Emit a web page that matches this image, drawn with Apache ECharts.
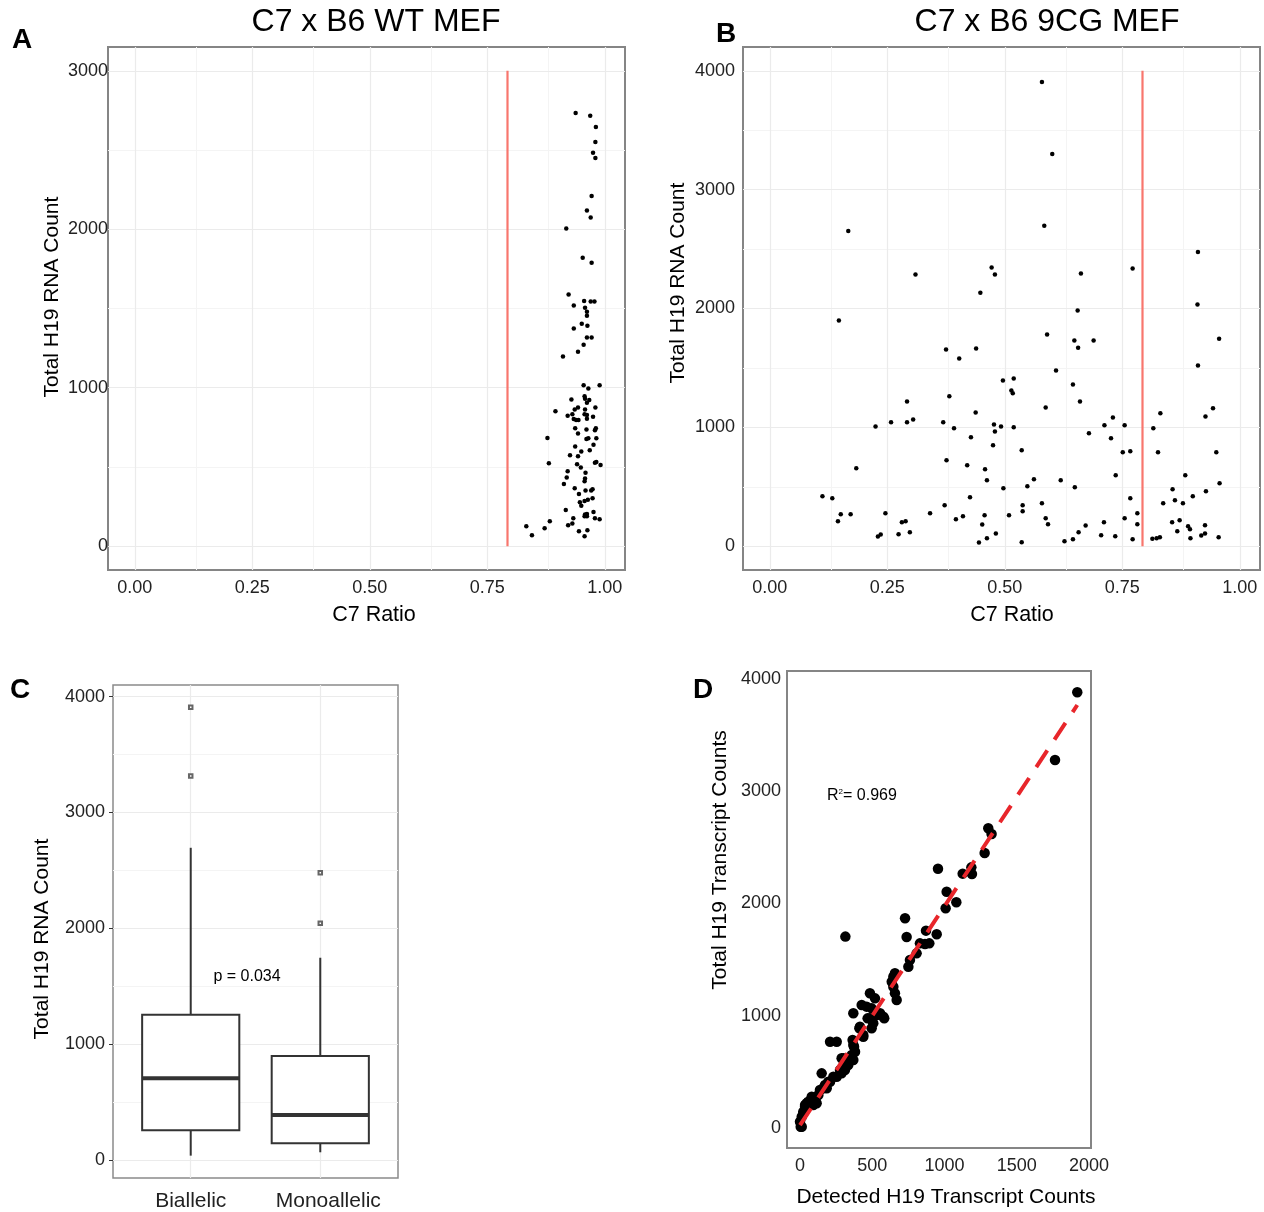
<!DOCTYPE html>
<html>
<head>
<meta charset="utf-8">
<script src="https://cdn.jsdelivr.net/npm/echarts@6.0.0/dist/echarts.min.js"></script>
<style>
  html, body { margin: 0; background: #fff; }
  #chart { width: 1264px; height: 1212px; }
</style>
</head>
<body>
<div id="chart"></div>
<script>
// A: C7 x B6 WT MEF  [C7 ratio, total H19 count]
var wtCells = [
  [0.938,2733],[0.969,2716],[0.981,2645],[0.980,2550],[0.975,2483],[0.980,2450],[0.972,2210],
  [0.962,2118],[0.970,2074],[0.918,2004],[0.953,1821],[0.972,1788],[0.923,1588],[0.956,1548],
  [0.970,1544],[0.978,1544],[0.934,1519],[0.958,1504],[0.962,1479],[0.962,1454],[0.951,1404],
  [0.934,1374],[0.963,1391],[0.962,1317],[0.972,1317],[0.955,1271],[0.943,1227],[0.911,1197],
  [0.955,1015],[0.989,1015],[0.965,996],[0.929,926],[0.957,947],[0.958,931],[0.967,922],
  [0.962,906],[0.943,876],[0.980,876],[0.936,863],[0.958,863],[0.895,851],[0.931,832],
  [0.957,832],[0.962,828],[0.921,824],[0.975,817],[0.934,802],[0.939,796],[0.944,796],
  [0.962,805],[0.937,744],[0.961,737],[0.979,731],[0.981,744],[0.943,712],[0.878,683],
  [0.961,676],[0.965,681],[0.982,681],[0.976,641],[0.937,630],[0.950,597],[0.968,605],
  [0.926,574],[0.943,567],[0.881,523],[0.941,517],[0.949,496],[0.979,527],[0.982,531],
  [0.991,512],[0.921,473],[0.959,464],[0.919,433],[0.958,427],[0.957,410],[0.913,393],
  [0.936,366],[0.959,351],[0.971,351],[0.974,359],[0.945,330],[0.974,302],[0.964,294],
  [0.957,286],[0.947,277],[0.950,256],[0.917,229],[0.958,200],[0.962,204],[0.976,216],
  [0.957,189],[0.962,189],[0.979,176],[0.989,170],[0.933,176],[0.883,158],[0.931,143],
  [0.922,132],[0.833,126],[0.872,113],[0.945,95],[0.963,101],[0.845,69],[0.957,63]
];

// B: C7 x B6 9CG MEF  [C7 ratio, total H19 count]
var cgCells = [
  [0.167,2653],[0.310,2286],[0.472,2345],[0.479,2286],[0.448,2132],[0.579,3905],[0.601,3300],
  [0.584,2697],[0.662,2294],[0.772,2336],[0.911,2476],[0.910,2034],[0.655,1983],[0.147,1899],
  [0.375,1655],[0.439,1664],[0.403,1580],[0.382,1261],[0.292,1218],[0.438,1126],[0.225,1008],
  [0.258,1042],[0.292,1042],[0.305,1067],[0.369,1042],[0.392,992],[0.477,1025],[0.479,966],
  [0.492,1008],[0.475,849],[0.428,916],[0.184,655],[0.376,723],[0.420,681],[0.458,647],
  [0.462,555],[0.112,420],[0.133,403],[0.151,269],[0.145,210],[0.172,269],[0.246,277],
  [0.230,81],[0.236,98],[0.274,101],[0.281,202],[0.289,210],[0.298,118],[0.341,277],
  [0.372,345],[0.396,227],[0.411,252],[0.426,412],[0.457,261],[0.452,182],[0.462,67],
  [0.445,31],[0.481,107],[0.956,1745],[0.590,1782],[0.648,1731],[0.656,1670],[0.689,1731],
  [0.911,1521],[0.609,1479],[0.496,1395],[0.519,1412],[0.514,1311],[0.517,1286],[0.645,1361],
  [0.660,1218],[0.587,1168],[0.943,1160],[0.927,1092],[0.831,1118],[0.730,1084],[0.712,1017],
  [0.755,1017],[0.519,1000],[0.816,992],[0.679,950],[0.726,908],[0.536,807],[0.751,790],
  [0.767,798],[0.826,790],[0.950,790],[0.736,597],[0.884,597],[0.957,529],[0.562,563],
  [0.619,555],[0.548,504],[0.649,496],[0.497,487],[0.857,479],[0.928,462],[0.900,420],
  [0.767,403],[0.862,387],[0.837,361],[0.879,361],[0.579,361],[0.538,345],[0.538,294],
  [0.509,261],[0.782,277],[0.587,235],[0.755,235],[0.711,202],[0.856,202],[0.872,218],
  [0.592,185],[0.782,185],[0.672,174],[0.890,168],[0.894,143],[0.926,176],[0.867,126],
  [0.657,118],[0.705,92],[0.735,84],[0.645,59],[0.627,42],[0.536,34],[0.772,59],
  [0.814,62],[0.823,67],[0.830,76],[0.895,67],[0.918,90],[0.926,107],[0.955,76]
];

var ratioCutoff = 0.793;

// C: box plot  [min, Q1, median, Q3, max]
var boxCategories = ['Biallelic', 'Monoallelic'];
var boxStats = [
  [38, 257, 707, 1255, 2695],
  [67, 146, 388, 899, 1746]
];
var boxOutliers = [[1, 3907], [1, 3314], [2, 2479], [2, 2044]];

// D: [detected, total]
var transcripts = [
  [1919,3881],[1765,3278],[1303,2670],[1326,2619],[1278,2450],[955,2310],[1126,2266],
  [1186,2322],[1190,2263],[1015,2105],[1082,2011],[1008,1957],[727,1868],[738,1702],
  [314,1705],[872,1758],[946,1726],[830,1645],[865,1639],[895,1645],[807,1556],[761,1497],
  [750,1437],[657,1378],[646,1348],[635,1303],[646,1259],[657,1200],[669,1140],[484,1200],
  [519,1155],[427,1096],[461,1081],[369,1022],[496,1066],[531,1022],[577,992],[484,977],
  [507,933],[496,888],[531,1007],[554,1022],[583,977],[468,977],[415,903],[438,829],
  [208,769],[254,769],[364,784],[369,739],[381,680],[358,650],[369,606],[300,621],
  [334,561],[311,517],[288,487],[254,457],[150,487],[231,457],[196,412],[173,383],
  [161,354],[138,339],[127,294],[81,265],[46,220],[35,190],[23,145],[12,101],[0,56],
  [12,12],[104,249],[115,220],[92,205],[57,234],[323,576],[311,546],[277,517],[208,412],
  [185,354],[81,279],[35,205],[23,131],[5,12],[288,621],[374,724],[411,888],[438,813]
];
var fitLine = [[0, 25], [1919, 3768]];

var ratioTicks = [0, 0.25, 0.5, 0.75, 1];
var ratioMinor = [0.125, 0.375, 0.625, 0.875];
var wtTicks = [0, 1000, 2000, 3000];
var wtMinor = [500, 1500, 2500];
var countTicks = [0, 1000, 2000, 3000, 4000];
var countMinor = [500, 1500, 2500, 3500];
var detectedTicks = [0, 500, 1000, 1500, 2000];

var FONT = '"Liberation Sans", Arial, Helvetica, sans-serif';

function plain(v) { return String(v); }

function axis(grid, min, max, ticks, o) {
  o = o || {};
  return {
    type: 'value', gridIndex: grid, min: min, max: max,
    axisLine: { show: false },
    splitLine: { show: false },
    axisTick: { show: o.tick !== false, customValues: ticks, length: 4, lineStyle: { color: '#333', width: 1 } },
    axisLabel: {
      customValues: ticks, margin: o.margin, fontSize: o.size || 18, color: '#222',
      fontFamily: FONT, formatter: o.fmt || plain, rich: o.rich
    }
  };
}

function guides(xMajor, xMinor, yMajor, yMinor) {
  var d = [];
  var minor = { color: '#f4f4f4', width: 1, type: 'solid' };
  var major = { color: '#ebebeb', width: 1.2, type: 'solid' };
  xMinor.forEach(function (v) { d.push({ xAxis: v, lineStyle: minor }); });
  yMinor.forEach(function (v) { d.push({ yAxis: v, lineStyle: minor }); });
  xMajor.forEach(function (v) { d.push({ xAxis: v, lineStyle: major }); });
  yMajor.forEach(function (v) { d.push({ yAxis: v, lineStyle: major }); });
  return { silent: true, symbol: 'none', z: 1, label: { show: false }, animation: false, data: d };
}

function txt(x, y, s, size, extra) {
  var e = {
    type: 'text', x: x, y: y,
    style: { text: s, fontSize: size, fontFamily: FONT, fill: '#000', align: 'center', verticalAlign: 'middle' }
  };
  if (extra) for (var k in extra) e[k] = extra[k];
  return e;
}

function letter(x, y, s) {
  var e = txt(x, y, s, 28);
  e.style.fontWeight = 'bold';
  return e;
}

var frame = { show: true, borderColor: '#858585', borderWidth: 2, backgroundColor: 'transparent', outerBoundsMode: 'none', containLabel: false };
var dot = { color: '#000', opacity: 1 };

var chart = echarts.init(document.getElementById('chart'));
chart.setOption({
  animation: false,
  grid: [
    Object.assign({ left: 108, top: 47, width: 517, height: 523 }, frame),
    Object.assign({ left: 743, top: 47, width: 517, height: 523 }, frame),
    Object.assign({ left: 113, top: 685, width: 285, height: 493 }, frame, { borderWidth: 1.5, borderColor: '#8a8a8a' }),
    Object.assign({ left: 787, top: 671, width: 304, height: 477 }, frame)
  ],
  xAxis: [
    axis(0, -0.057, 1.043, ratioTicks, { margin: 9, fmt: function (v) { return v.toFixed(2); } }),
    axis(1, -0.057, 1.043, ratioTicks, { margin: 9, fmt: function (v) { return v.toFixed(2); } }),
    axis(2, 0.4, 2.6, [1, 2], {
      margin: 13, size: 21,
      fmt: function (v) { var i = Math.round(v) - 1; return i === 1 ? '{m|' + boxCategories[i] + '}' : boxCategories[i]; },
      rich: { m: { fontSize: 21, fontFamily: FONT, color: '#222', padding: [0, 0, 0, 16] } }
    }),
    axis(3, -90, 2014, detectedTicks, { tick: false, margin: 9 })
  ],
  yAxis: [
    axis(0, -150, 3150, wtTicks, { margin: 0 }),
    axis(1, -200, 4200, countTicks, { margin: 8 }),
    axis(2, -155, 4100, countTicks, { margin: 8 }),
    axis(3, -178, 4071, countTicks, { tick: false, margin: 6 })
  ],
  series: [
    {
      type: 'scatter', xAxisIndex: 0, yAxisIndex: 0, data: wtCells, z: 3,
      symbolSize: 4.5, itemStyle: dot,
      markLine: guides(ratioTicks, ratioMinor, wtTicks, wtMinor)
    },
    {
      type: 'line', xAxisIndex: 0, yAxisIndex: 0, z: 2, symbol: 'none',
      data: [[ratioCutoff, 0], [ratioCutoff, 3000]],
      lineStyle: { color: '#f8766d', width: 2.2 }
    },
    {
      type: 'scatter', xAxisIndex: 1, yAxisIndex: 1, data: cgCells, z: 3,
      symbolSize: 4.5, itemStyle: dot,
      markLine: guides(ratioTicks, ratioMinor, countTicks, countMinor)
    },
    {
      type: 'line', xAxisIndex: 1, yAxisIndex: 1, z: 2, symbol: 'none',
      data: [[ratioCutoff, 0], [ratioCutoff, 4000]],
      lineStyle: { color: '#f8766d', width: 2.2 }
    },
    {
      type: 'custom', xAxisIndex: 2, yAxisIndex: 2, z: 3,
      data: boxStats.map(function (s, i) { return [i + 1].concat(s); }),
      encode: { x: 0, y: [1, 2, 3, 4, 5] },
      renderItem: function (params, api) {
        var x = api.value(0), hw = 0.375;
        var lo = api.value(1), q1 = api.value(2), med = api.value(3), q3 = api.value(4), hi = api.value(5);
        function seg(x1, y1, x2, y2, w) {
          var a = api.coord([x1, y1]), b = api.coord([x2, y2]);
          return { type: 'line', shape: { x1: a[0], y1: a[1], x2: b[0], y2: b[1] }, style: { stroke: '#333', lineWidth: w } };
        }
        var tl = api.coord([x - hw, q3]), br = api.coord([x + hw, q1]);
        return {
          type: 'group',
          children: [
            seg(x, q3, x, hi, 2),
            seg(x, lo, x, q1, 2),
            { type: 'rect', shape: { x: tl[0], y: tl[1], width: br[0] - tl[0], height: br[1] - tl[1] },
              style: { fill: '#fff', stroke: '#333', lineWidth: 2 } },
            seg(x - hw, med, x + hw, med, 4)
          ]
        };
      }
    },
    {
      type: 'scatter', xAxisIndex: 2, yAxisIndex: 2, data: boxOutliers, z: 3,
      symbol: 'emptyRect', symbolSize: 3.5, itemStyle: { color: '#666', borderWidth: 0.7, opacity: 1 },
      markLine: guides([1, 2], [], countTicks, countMinor)
    },
    {
      type: 'scatter', xAxisIndex: 3, yAxisIndex: 3, data: transcripts, z: 3,
      symbolSize: 10.5, itemStyle: dot
    },
    {
      type: 'line', xAxisIndex: 3, yAxisIndex: 3, z: 4, symbol: 'none', data: fitLine,
      lineStyle: { color: '#e8262b', width: 4, type: [20, 13] }
    }
  ],
  graphic: [
    txt(376, 22, 'C7 x B6 WT MEF', 32),
    txt(1047, 22, 'C7 x B6 9CG MEF', 32),
    letter(22, 40, 'A'),
    letter(726, 34, 'B'),
    letter(20, 690, 'C'),
    letter(703, 690, 'D'),
    txt(374, 615, 'C7 Ratio', 21.5),
    txt(1012, 615, 'C7 Ratio', 21.5),
    txt(52, 297, 'Total H19 RNA Count', 21, { rotation: Math.PI / 2 }),
    txt(678, 283, 'Total H19 RNA Count', 21, { rotation: Math.PI / 2 }),
    txt(42, 939, 'Total H19 RNA Count', 21, { rotation: Math.PI / 2 }),
    txt(247, 977, 'p = 0.034', 16),
    txt(946, 1197, 'Detected H19 Transcript Counts', 21),
    txt(720, 860, 'Total H19 Transcript Counts', 21, { rotation: Math.PI / 2 }),
    {
      type: 'text', x: 827, y: 796,
      style: {
        text: '{r|R}{s|2}{r|= 0.969}', verticalAlign: 'middle', align: 'left',
        rich: {
          r: { fontSize: 16, fontFamily: FONT, fill: '#000' },
          s: { fontSize: 8, fontFamily: FONT, fill: '#000', verticalAlign: 'top' }
        }
      }
    }
  ]
});
</script>
</body>
</html>
